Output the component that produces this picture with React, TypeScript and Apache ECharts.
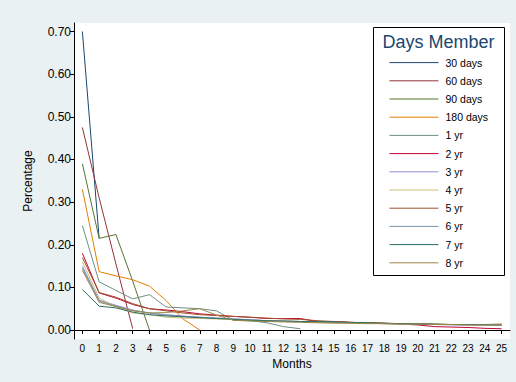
import React, { useEffect, useRef } from "react";
import * as echarts from "echarts";

const months = Array.from({ length: 26 }, (_, i) => String(i));
const yTicks = [0, 0.1, 0.2, 0.3, 0.4, 0.5, 0.6, 0.7];

const seriesNames = ["30 days", "60 days", "90 days", "180 days", "1 yr", "2 yr", "3 yr", "4 yr", "5 yr", "6 yr", "7 yr", "8 yr"];
const seriesColors = ["#1a476f", "#90353b", "#55752f", "#e37e00", "#6e8e84", "#c10534", "#938dd2", "#cac27e", "#a0522d", "#7b92a8", "#2d6d66", "#9c8847"];

const days30 = [0.70, 0.215];
const days60 = [0.475, 0.31, 0.155, 0.003];
const days90 = [0.39, 0.215, 0.224, 0.115, 0.0];
const days180 = [0.33, 0.137, 0.127, 0.118, 0.103, 0.069, 0.026, 0.0];
const yr1 = [0.245, 0.113, 0.093, 0.073, 0.083, 0.054, 0.052, 0.05, 0.045, 0.023, 0.022, 0.017, 0.008, 0.003];
const yr2 = [0.18, 0.087, 0.075, 0.06, 0.05, 0.047, 0.043, 0.038, 0.035, 0.032, 0.03, 0.027, 0.027, 0.027, 0.02, 0.02, 0.018, 0.017, 0.016, 0.014, 0.012, 0.008, 0.007, 0.006, 0.004, 0.003];
const yr3 = [0.15, 0.07, 0.058, 0.047, 0.04, 0.036, 0.033, 0.03, 0.028, 0.026, 0.024, 0.022, 0.021, 0.02, 0.019, 0.018, 0.017, 0.016, 0.015, 0.014, 0.013, 0.013, 0.012, 0.012, 0.011, 0.011];
const yr4 = [0.16, 0.075, 0.055, 0.04, 0.036, 0.03, 0.028, 0.027, 0.026, 0.025, 0.023, 0.022, 0.021, 0.02, 0.019, 0.018, 0.017, 0.016, 0.015, 0.014, 0.014, 0.013, 0.013, 0.012, 0.012, 0.012];
const yr5 = [0.17, 0.088, 0.077, 0.062, 0.05, 0.045, 0.04, 0.036, 0.034, 0.032, 0.03, 0.028, 0.026, 0.025, 0.022, 0.02, 0.018, 0.017, 0.016, 0.015, 0.015, 0.014, 0.013, 0.013, 0.013, 0.014];
const yr6 = [0.145, 0.068, 0.056, 0.046, 0.04, 0.035, 0.032, 0.03, 0.028, 0.026, 0.024, 0.022, 0.021, 0.02, 0.019, 0.018, 0.017, 0.016, 0.015, 0.015, 0.014, 0.013, 0.013, 0.012, 0.012, 0.012];
const yr7 = [0.095, 0.056, 0.052, 0.042, 0.036, 0.033, 0.031, 0.029, 0.027, 0.025, 0.023, 0.022, 0.021, 0.02, 0.02, 0.019, 0.018, 0.017, 0.016, 0.015, 0.014, 0.014, 0.013, 0.013, 0.013, 0.012];
const yr8 = [0.14, 0.065, 0.055, 0.045, 0.04, 0.041, 0.045, 0.05, 0.035, 0.023, 0.021, 0.02, 0.019, 0.018, 0.017, 0.016, 0.016, 0.015, 0.015, 0.014, 0.014, 0.013, 0.013, 0.012, 0.012, 0.013];

const seriesValues = [days30, days60, days90, days180, yr1, yr2, yr3, yr4, yr5, yr6, yr7, yr8];

const FONT = "Liberation Sans, Arial, sans-serif";

export default function App() {
  const ref = useRef<HTMLDivElement>(null);
  useEffect(() => {
    if (!ref.current) return;
    const chart = echarts.init(ref.current, undefined, { renderer: "svg" });
    chart.setOption({
      animation: false,
      backgroundColor: "#eaf1f3",
      textStyle: { fontFamily: FONT },
      grid: {
        left: 74,
        top: 23,
        right: 6,
        bottom: 43,
        show: true,
        backgroundColor: "#ffffff",
        borderWidth: 0,
      },
      xAxis: {
        type: "category",
        data: months,
        boundaryGap: true,
        name: "Months",
        nameLocation: "middle",
        nameGap: 16,
        nameTextStyle: { fontSize: 12, color: "#000", fontFamily: FONT },
        axisLine: { show: true, lineStyle: { color: "#000", width: 1 } },
        axisTick: { show: true, alignWithLabel: true, length: 4, lineStyle: { color: "#000" } },
        axisLabel: { interval: 0, fontSize: 10, color: "#000", margin: 4, fontFamily: FONT },
        splitLine: { show: false },
      },
      yAxis: {
        type: "value",
        min: -0.021,
        max: 0.72,
        name: "Percentage",
        nameLocation: "middle",
        nameGap: 40,
        nameTextStyle: { fontSize: 12, color: "#000", fontFamily: FONT },
        axisLine: { show: true, lineStyle: { color: "#000", width: 1 } },
        axisTick: { show: true, length: 4, customValues: yTicks, lineStyle: { color: "#000" } },
        axisLabel: {
          fontSize: 12,
          color: "#000",
          margin: 3,
          fontFamily: FONT,
          customValues: yTicks,
          formatter: (v: number) => v.toFixed(2),
        },
        splitLine: { show: false },
      },
      legend: {
        orient: "vertical",
        left: 389,
        top: 57,
        padding: 0,
        itemWidth: 49,
        itemHeight: 14,
        itemGap: 7,
        data: seriesNames,
        itemStyle: { opacity: 0 },
        lineStyle: { width: 1 },
        textStyle: { fontSize: 10.5, color: "#000", fontFamily: FONT, padding: [0, 0, 0, 2] },
      },
      graphic: [
        {
          type: "rect",
          shape: { x: 373.5, y: 27.5, width: 131, height: 248 },
          style: { fill: "#ffffff", stroke: "#000", lineWidth: 1 },
          z: 0,
        },
        {
          type: "text",
          x: 438.5,
          y: 42,
          style: {
            text: "Days Member",
            fontSize: 18,
            fill: "#1a476f",
            fontFamily: FONT,
            align: "center",
            verticalAlign: "middle",
          },
          z: 1,
        },
      ],
      series: seriesNames.map((name, i) => ({
        name,
        type: "line",
        data: seriesValues[i],
        symbol: "none",
        showSymbol: false,
        lineStyle: { color: seriesColors[i], width: 1 },
        itemStyle: { color: seriesColors[i] },
        z: 2,
      })),
    });
    return () => chart.dispose();
  }, []);
  return <div ref={ref} style={{ position: "fixed", left: 0, top: 0, width: 516, height: 382 }} />;
}
